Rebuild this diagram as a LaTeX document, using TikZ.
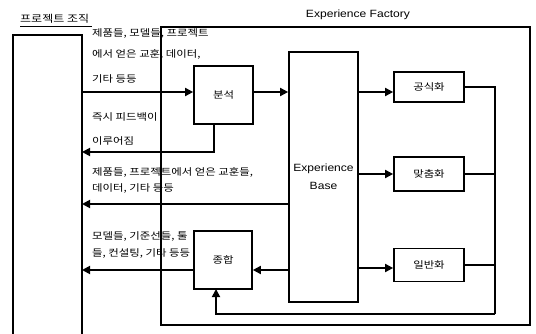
\documentclass[tikz,border=0pt]{standalone}
\usepackage{fontspec}
\setmainfont{Liberation Sans}[FakeStretch=1.15]
\newfontfamily\kr{Noto Sans CJK KR}[FakeStretch=1.2]
\usetikzlibrary{arrows.meta}
\begin{document}
\begin{tikzpicture}[x=1pt,y=-1pt,
  line/.style={line width=1.7pt},
  arr/.style={line width=1.7pt,-{Triangle[length=8pt,width=8pt]}},
  box/.style={draw,line width=1.7pt,inner sep=0pt},
  lbl/.style={anchor=west,inner sep=0pt,font=\kr\fontsize{9.5}{11}\selectfont},
  ktxt/.style={font=\kr\fontsize{9.5}{11}\selectfont}]
\useasboundingbox (0,0) rectangle (536,334);
\fill[white] (0,0) rectangle (536,334);
% project organisation
\node[anchor=west,inner sep=0pt,font=\kr\fontsize{10}{12}\selectfont] (orgt) at (20,19) {프로젝트 조직};
\draw[line width=0.8pt] (20,26) -- (92,26);
\coordinate (oTL) at (13,35);
\coordinate (oTR) at (82,35);
\draw[line] (13,334) -- (oTL) -- (oTR) -- (82,334);
% experience factory
\node[font=\fontsize{10.5}{12}\selectfont] (eft) at (358,15) {Experience Factory};
\draw[line] (161,27) rectangle (530,325);
% boxes
\node[box,minimum width=59pt,minimum height=58pt,ktxt] (an) at (223.5,95) {분석};
\node[box,minimum width=58pt,minimum height=58pt,ktxt] (sy) at (223,260) {종합};
\node[box,minimum width=69pt,minimum height=250pt,align=center,font=\fontsize{10.5}{18}\selectfont] (eb) at (323.5,177) {Experience\\Base};
\node[box,minimum width=70pt,minimum height=30pt,ktxt] (f1) at (429,87) {공식화};
\node[box,minimum width=70pt,minimum height=34pt,ktxt] (f2) at (429,174) {맞춤화};
\node[box,minimum width=70pt,minimum height=33pt,ktxt] (f3) at (429,265) {일반화};
% texts
\node[lbl] (t1) at (92,33) {제품들, 모델들, 프로젝트};
\node[lbl] (t2) at (92,54) {에서 얻은 교훈, 데이터,};
\node[lbl] (t3) at (92,79) {기타 등등};
\node[lbl] (t4) at (92,117) {즉시 피드백이};
\node[lbl] (t5) at (92,141) {이루어짐};
\node[lbl] (t6) at (92,172) {제품들, 프로젝트에서 얻은 교훈들,};
\node[lbl] (t7) at (92,188) {데이터, 기타 등등};
\node[lbl] (t8) at (92,236) {모델들, 기준선들, 툴};
\node[lbl] (t9) at (92,253) {들, 컨설팅, 기타 등등};
% connectors
\coordinate (o1) at (82,92);
\coordinate (o2) at (82,152);
\coordinate (o3) at (82,204);
\coordinate (o4) at (82,270);
\draw[arr] (o1) -- (an.west |- o1);
\draw[arr] (an.east |- o1) -- (eb.west |- o1);
\draw[arr] (eb.east |- o1) -- (f1.west |- o1);
\draw[arr] (eb.east |- f2.west) -- (f2.west);
\coordinate (e3) at (358,268);
\draw[arr] (e3) -- (f3.west |- e3);
\draw[arr] (an.south -| 214,0) -- (214,152) -- (o2);
\draw[arr] (eb.west |- o3) -- (o3);
\draw[arr] (sy.west |- o4) -- (o4);
\draw[arr] (eb.west |- o4) -- (sy.east |- o4);
\coordinate (bus) at (495,314);
\draw[line] (f1.east) -- (495,87) -- (bus);
\draw[line] (f2.east) -- (495,174);
\draw[line] (f3.east) -- (495,265);
\draw[arr] (bus) -- (216,314) -- (216,289);
\end{tikzpicture}
\end{document}
